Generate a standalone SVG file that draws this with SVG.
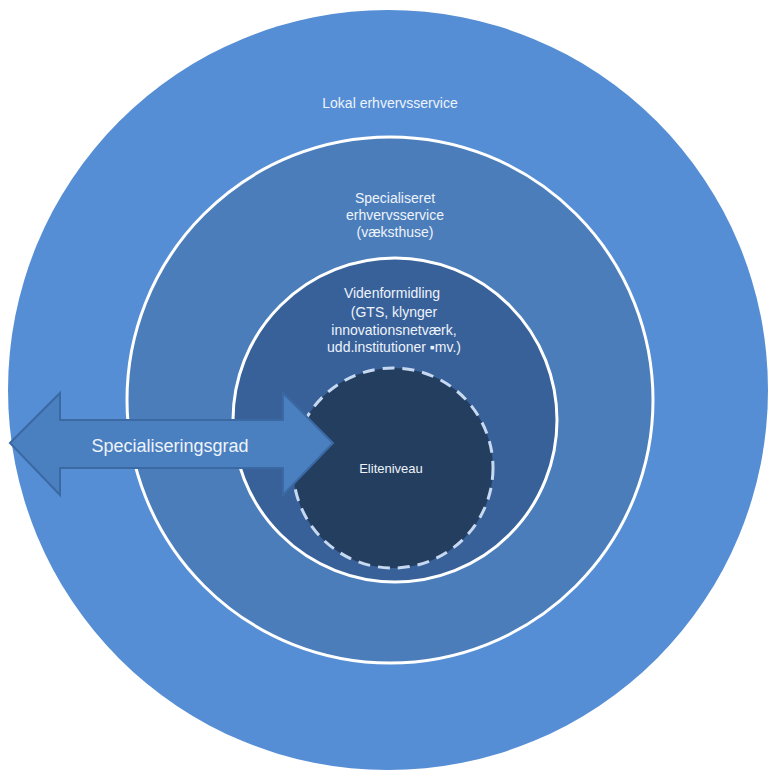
<svg xmlns="http://www.w3.org/2000/svg" width="770" height="776" viewBox="0 0 770 776">
<style>
.t{font-family:"Liberation Sans",Arial,sans-serif;fill:#eef3fa;text-anchor:middle;font-size:14px}
.ring{stroke:#ffffff;stroke-width:3}
</style>
<rect x="0" y="0" width="770" height="776" fill="#ffffff"/>
<g id="lokal">
<circle cx="388" cy="390" r="380" fill="#558ed5"/>
<text class="t" x="390" y="108">Lokal erhvervsservice</text>
</g>
<g id="specialiseret">
<circle class="ring" cx="390" cy="400" r="263" fill="#4b7dbb"/>
<text class="t" x="395" y="203">Specialiseret</text>
<text class="t" x="395" y="220">erhvervsservice</text>
<text class="t" x="395" y="237">(væksthuse)</text>
</g>
<g id="videnformidling">
<circle class="ring" cx="395" cy="420" r="162" fill="#38619a"/>
<text class="t" x="392" y="298">Videnformidling</text>
<text class="t" x="394" y="317">(GTS, klynger</text>
<text class="t" x="394" y="335">innovationsnetværk,</text>
<text class="t" x="394" y="352">udd.institutioner ▪mv.)</text>
</g>
<g id="eliteniveau">
<circle cx="393" cy="468" r="100" fill="#243e60" stroke="#c6d9f1" stroke-width="3" stroke-dasharray="12 8"/>
<text class="t" x="391" y="473" style="font-size:13px">Eliteniveau</text>
</g>
<g id="connectors">
<g id="specialiseringsgrad">
<polygon points="10,443 60,393 60,420 283,420 283,393 333,443 283,495 283,468 60,468 60,495" fill="#4a7fc0" stroke="#3a69a3" stroke-width="2" stroke-linejoin="miter"/>
<text class="t" x="170" y="452" style="font-size:18px">Specialiseringsgrad</text>
</g>
</g>
</svg>
